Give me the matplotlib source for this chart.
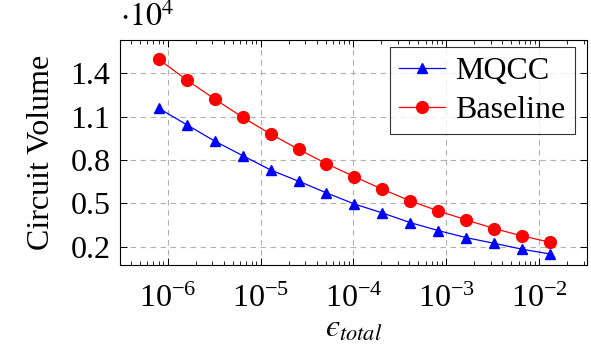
import matplotlib
matplotlib.use("Agg")
import matplotlib.pyplot as plt
from matplotlib.ticker import LogLocator, NullFormatter, FixedLocator

plt.rcParams['font.family'] = ['Liberation Serif', 'DejaVu Serif']
plt.rcParams['mathtext.fontset'] = 'stix'

# error budget (x) and circuit volume (y)
eps_total = [8e-7, 1.6e-6, 3.2e-6, 6.4e-6, 1.28e-5, 2.56e-5, 5.12e-5, 1.024e-4,
             2.048e-4, 4.096e-4, 8.192e-4, 1.6384e-3, 3.2768e-3, 6.5536e-3, 1.31072e-2]
mqcc = [11580, 10440, 9310, 8300, 7310, 6530, 5720, 4950,
        4330, 3660, 3110, 2620, 2230, 1820, 1490]
baseline = [14970, 13540, 12220, 10950, 9800, 8740, 7740, 6840,
            5970, 5160, 4470, 3850, 3250, 2740, 2300]
y_ticks = [2000, 5000, 8000, 11000, 14000]
y_tick_labels = ['0.2', '0.5', '0.8', '1.1', '1.4']

fig = plt.figure(figsize=(5.91, 3.52), dpi=100)
ax = fig.add_axes([120 / 591, 1 - 265 / 352, 467 / 591, 225 / 352])

ax.plot(eps_total, mqcc, '-', color='blue', marker='^', markersize=7.5,
        linewidth=0.9, label='MQCC')
ax.plot(eps_total, baseline, '-', color='red', marker='o', markersize=8.5,
        linewidth=0.9, label='Baseline')

ax.set_xscale('log')
ax.set_xlim(10 ** -6.513, 10 ** -1.487)
ax.set_ylim(730, 16300)

ax.xaxis.set_major_locator(LogLocator(base=10, numticks=20))
ax.xaxis.set_minor_locator(LogLocator(base=10, subs=range(2, 10), numticks=50))
ax.xaxis.set_minor_formatter(NullFormatter())
ax.yaxis.set_major_locator(FixedLocator(y_ticks))
ax.set_yticklabels(y_tick_labels)

ax.tick_params(which='both', direction='in', top=True, right=True, labelsize=23)
ax.tick_params(which='major', length=5, width=0.7)
ax.tick_params(which='minor', length=3, width=0.6)
ax.tick_params(axis='x', pad=14)
ax.tick_params(axis='y', pad=7)

ax.grid(True, which='major', linestyle=(0, (5, 4)), color='#b0b0b0', linewidth=0.8)
for s in ax.spines.values():
    s.set_linewidth(0.8)

ax.set_ylabel('Circuit Volume', fontsize=23, labelpad=10)
ax.set_xlabel('$\u03f5_{total}$', fontsize=23, labelpad=1)
ax.text(0.0, 1.03, r'$\cdot10^4$', transform=ax.transAxes, fontsize=23,
        ha='left', va='bottom')

leg = ax.legend(loc='upper right', bbox_to_anchor=(0.974, 0.969), fontsize=23,
                frameon=True, fancybox=False, edgecolor='black', borderpad=0.3,
                handlelength=1.45, labelspacing=0.3, handletextpad=0.3,
                borderaxespad=0)
leg.get_frame().set_linewidth(0.8)

fig.savefig('out.png', dpi=100)
